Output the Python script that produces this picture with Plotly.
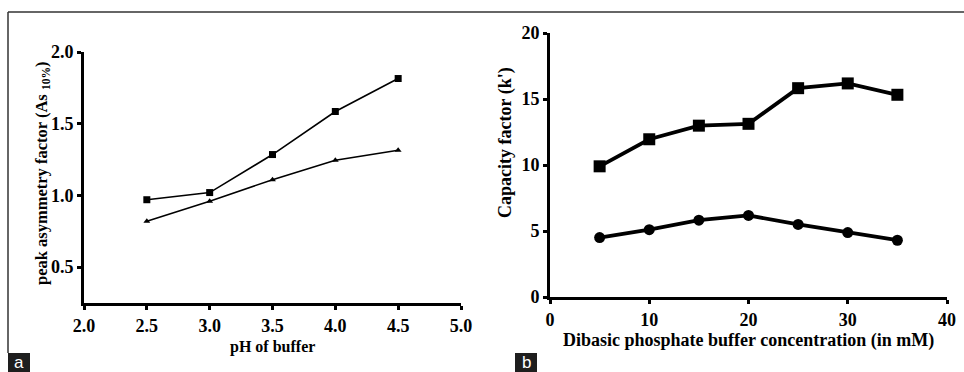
import plotly.graph_objects as go

W, H = 964, 372

# Panel a data
ph = [2.5, 3.0, 3.5, 4.0, 4.5]
asym_square = [0.97, 1.02, 1.285, 1.585, 1.815]
asym_triangle = [0.82, 0.96, 1.11, 1.245, 1.315]
a_xticks = [2.0, 2.5, 3.0, 3.5, 4.0, 4.5, 5.0]
a_yticks = [0.5, 1.0, 1.5, 2.0]

# Panel b data
conc = [5, 10, 15, 20, 25, 30, 35]
k_square = [9.9, 11.95, 12.98, 13.12, 15.82, 16.18, 15.32]
k_circle = [4.5, 5.1, 5.82, 6.18, 5.5, 4.88, 4.3]
b_xticks = [0, 10, 20, 30, 40]
b_yticks = [0, 5, 10, 15, 20]

FONT = "Liberation Serif"

def px_x(a, b):
    return [a / W, b / W]

def px_y(top, bottom):
    return [1 - bottom / H, 1 - top / H]

fig = go.Figure()

fig.add_trace(go.Scatter(x=ph, y=asym_square, mode="lines+markers",
                         line=dict(color="black", width=1.6),
                         marker=dict(symbol="square", size=7, color="black"),
                         xaxis="x", yaxis="y", cliponaxis=False, showlegend=False))
fig.add_trace(go.Scatter(x=ph, y=asym_triangle, mode="lines+markers",
                         line=dict(color="black", width=1.6),
                         marker=dict(symbol="triangle-up", size=6, color="black"),
                         xaxis="x", yaxis="y", cliponaxis=False, showlegend=False))
fig.add_trace(go.Scatter(x=conc, y=k_square, mode="lines+markers",
                         line=dict(color="black", width=3.8),
                         marker=dict(symbol="square", size=12, color="black"),
                         xaxis="x2", yaxis="y2", cliponaxis=False, showlegend=False))
fig.add_trace(go.Scatter(x=conc, y=k_circle, mode="lines+markers",
                         line=dict(color="black", width=3.8),
                         marker=dict(symbol="circle", size=11, color="black"),
                         xaxis="x2", yaxis="y2", cliponaxis=False, showlegend=False))

def axis(domain, rng, vals, texts, anchor):
    return dict(domain=domain, range=rng, tickmode="array", tickvals=vals,
                ticktext=[f"<b>{t}</b>" for t in texts], anchor=anchor,
                showline=True, linecolor="black", linewidth=3, showgrid=False,
                zeroline=False, ticks="outside", ticklen=4, tickwidth=2.5,
                tickcolor="black", automargin=False,
                tickfont=dict(family=FONT, size=18, color="black"))

fig.update_layout(
    template="none",
    width=W, height=H,
    margin=dict(l=0, r=0, t=0, b=0),
    paper_bgcolor="white", plot_bgcolor="white",
    font=dict(family=FONT, size=17, color="black"),
    xaxis=axis(px_x(84, 461), [2, 5], a_xticks, [f"{v:.1f}" for v in a_xticks], "y"),
    yaxis=axis(px_y(52, 303), [0.25, 2.0], a_yticks, [f"{v:.1f}" for v in a_yticks], "x"),
    xaxis2=axis(px_x(550, 947), [0, 40], b_xticks, [str(v) for v in b_xticks], "y2"),
    yaxis2=axis(px_y(33, 297), [0, 20], b_yticks, [str(v) for v in b_yticks], "x2"),
)

fig.add_annotation(text="<b>pH of buffer</b>", x=272 / W, y=1 - 347 / H, xref="paper", yref="paper",
                   showarrow=False, font=dict(family=FONT, size=16, color="black"),
                   xanchor="center", yanchor="middle")
fig.add_annotation(text="<b>peak asymmetry factor (As <sub>10%</sub>)</b>", x=42 / W, y=1 - 173 / H,
                   xref="paper", yref="paper", showarrow=False, textangle=-90,
                   font=dict(family=FONT, size=16.5, color="black"),
                   xanchor="center", yanchor="middle")
fig.add_annotation(text="<b>Dibasic phosphate buffer concentration (in mM)</b>", x=748 / W, y=1 - 340 / H,
                   xref="paper", yref="paper", showarrow=False,
                   font=dict(family=FONT, size=18, color="black"),
                   xanchor="center", yanchor="middle")
fig.add_annotation(text="<b>Capacity factor (k')</b>", x=505 / W, y=1 - 143 / H,
                   xref="paper", yref="paper", showarrow=False, textangle=-90,
                   font=dict(family=FONT, size=18, color="black"),
                   xanchor="center", yanchor="middle")

# frame lines
fig.add_shape(type="line", x0=8 / W, x1=1, y0=1 - 12 / H, y1=1 - 12 / H,
              xref="paper", yref="paper", line=dict(color="#333333", width=1.5))
fig.add_shape(type="line", x0=8 / W, x1=8 / W, y0=1 - 12 / H, y1=1 - 353 / H,
              xref="paper", yref="paper", line=dict(color="#333333", width=1.5))

# panel labels
for lbl, x0, x1 in [("a", 8, 30), ("b", 515, 537)]:
    fig.add_shape(type="rect", x0=x0 / W, x1=x1 / W, y0=0, y1=1 - 353 / H,
                  xref="paper", yref="paper", fillcolor="#1e1e1e", line=dict(width=0))
    fig.add_annotation(text=lbl, x=(x0 + x1) / 2 / W, y=1 - 362 / H, xref="paper", yref="paper",
                       showarrow=False, xanchor="center", yanchor="middle",
                       borderpad=0,
                       font=dict(family="Liberation Sans", size=17, color="white"))

fig.write_html("out.html")
